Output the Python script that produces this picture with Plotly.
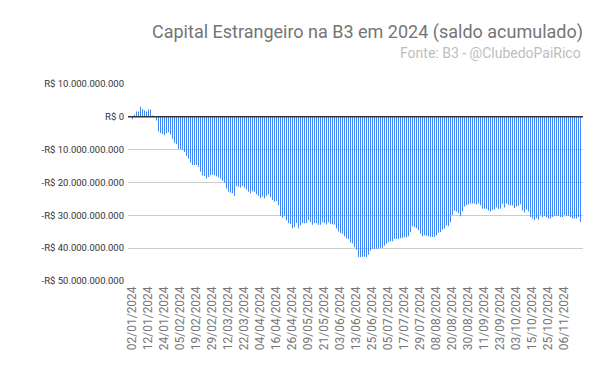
import plotly.graph_objects as go

dates = (
    ["02/01/2024","03/01/2024","04/01/2024","05/01/2024","08/01/2024","09/01/2024","10/01/2024","11/01/2024","12/01/2024",
     "15/01/2024","16/01/2024","17/01/2024","18/01/2024","19/01/2024","22/01/2024","23/01/2024","24/01/2024","25/01/2024",
     "26/01/2024","29/01/2024","30/01/2024","31/01/2024"]
    + ["01/02/2024","02/02/2024","05/02/2024","06/02/2024","07/02/2024","08/02/2024","09/02/2024","14/02/2024","15/02/2024",
       "16/02/2024","19/02/2024","20/02/2024","21/02/2024","22/02/2024","23/02/2024","26/02/2024","27/02/2024","28/02/2024",
       "29/02/2024"]
    + ["01/03/2024","04/03/2024","05/03/2024","06/03/2024","07/03/2024","08/03/2024","11/03/2024","12/03/2024","13/03/2024",
       "14/03/2024","15/03/2024","18/03/2024","19/03/2024","20/03/2024","21/03/2024","22/03/2024","25/03/2024","26/03/2024",
       "27/03/2024","28/03/2024"]
    + ["01/04/2024","02/04/2024","03/04/2024","04/04/2024","05/04/2024","08/04/2024","09/04/2024","10/04/2024","11/04/2024",
       "12/04/2024","15/04/2024","16/04/2024","17/04/2024","18/04/2024","19/04/2024","22/04/2024","23/04/2024","24/04/2024",
       "25/04/2024","26/04/2024","29/04/2024","30/04/2024"]
    + ["02/05/2024","03/05/2024","06/05/2024","07/05/2024","08/05/2024","09/05/2024","10/05/2024","13/05/2024","14/05/2024",
       "15/05/2024","16/05/2024","17/05/2024","20/05/2024","21/05/2024","22/05/2024","23/05/2024","24/05/2024","27/05/2024",
       "28/05/2024","29/05/2024","31/05/2024"]
    + ["03/06/2024","04/06/2024","05/06/2024","06/06/2024","07/06/2024","10/06/2024","11/06/2024","12/06/2024","13/06/2024",
       "14/06/2024","17/06/2024","18/06/2024","19/06/2024","20/06/2024","21/06/2024","24/06/2024","25/06/2024","26/06/2024",
       "27/06/2024","28/06/2024"]
    + ["01/07/2024","02/07/2024","03/07/2024","04/07/2024","05/07/2024","08/07/2024","09/07/2024","10/07/2024","11/07/2024",
       "12/07/2024","15/07/2024","16/07/2024","17/07/2024","18/07/2024","19/07/2024","22/07/2024","23/07/2024","24/07/2024",
       "25/07/2024","26/07/2024","29/07/2024","30/07/2024","31/07/2024"]
    + ["01/08/2024","02/08/2024","05/08/2024","06/08/2024","07/08/2024","08/08/2024","09/08/2024","12/08/2024","13/08/2024",
       "14/08/2024","15/08/2024","16/08/2024","19/08/2024","20/08/2024","21/08/2024","22/08/2024","23/08/2024","26/08/2024",
       "27/08/2024","28/08/2024","29/08/2024","30/08/2024"]
    + ["02/09/2024","03/09/2024","04/09/2024","05/09/2024","06/09/2024","09/09/2024","10/09/2024","11/09/2024","12/09/2024",
       "13/09/2024","16/09/2024","17/09/2024","18/09/2024","19/09/2024","20/09/2024","23/09/2024","24/09/2024","25/09/2024",
       "26/09/2024","27/09/2024","30/09/2024"]
    + ["01/10/2024","02/10/2024","03/10/2024","04/10/2024","07/10/2024","08/10/2024","09/10/2024","10/10/2024","11/10/2024",
       "14/10/2024","15/10/2024","16/10/2024","17/10/2024","18/10/2024","21/10/2024","22/10/2024","23/10/2024","24/10/2024",
       "25/10/2024","28/10/2024","29/10/2024","30/10/2024","31/10/2024"]
    + ["01/11/2024","04/11/2024","05/11/2024","06/11/2024","07/11/2024","08/11/2024","11/11/2024","12/11/2024","13/11/2024",
       "14/11/2024","18/11/2024","19/11/2024"]
)

# accumulated balance, in billions of R$
saldo_bi = [
    -0.7, 0.6, 1.6, 1.6, 3.1, 2.4, 1.9, 1.6, 2.2, 2.2,
    0.4, -0.1, -1.1, -4.4, -4.9, -5.2, -5.6, -4.9, -4.7, -5.4,
    -6.7, -7.9, -8.3, -9.7, -9.9, -10.0, -10.7, -11.9, -12.8, -14.0,
    -14.7, -14.7, -14.7, -15.2, -16.7, -17.9, -18.0, -18.8, -18.3, -17.8,
    -17.6, -17.8, -18.1, -18.4, -18.8, -19.5, -20.1, -21.8, -22.8, -23.1,
    -23.3, -24.0, -21.1, -21.3, -21.5, -21.1, -21.6, -22.1, -22.8, -23.3,
    -22.7, -22.8, -23.6, -24.1, -24.8, -24.3, -24.8, -24.0, -23.6, -24.5,
    -25.3, -25.9, -25.6, -26.9, -30.1, -30.7, -30.3, -31.5, -32.3, -32.6,
    -33.9, -33.6, -32.3, -33.9, -33.1, -32.3, -32.4, -32.3, -31.5, -32.0,
    -32.9, -32.3, -32.4, -32.9, -32.9, -32.1, -32.3, -32.8, -32.1, -32.6,
    -32.7, -32.9, -34.0, -34.9, -35.4, -35.6, -36.4, -37.0, -37.2, -38.3,
    -38.6, -39.7, -40.5, -42.7, -42.7, -42.6, -42.6, -42.8, -42.0, -40.7,
    -40.2, -40.2, -40.2, -40.2, -39.9, -39.9, -39.3, -38.6, -38.1, -37.9,
    -37.9, -37.2, -37.1, -37.1, -37.0, -36.9, -36.7, -36.7, -36.4, -35.1,
    -33.3, -33.6, -33.9, -34.5, -35.5, -36.4, -36.1, -36.2, -36.4, -36.5,
    -36.6, -36.6, -36.1, -35.3, -35.1, -34.3, -34.0, -33.1, -33.3, -32.1,
    -29.8, -28.6, -28.8, -29.3, -30.3, -28.8, -27.3, -26.9, -26.6, -26.4,
    -26.4, -26.4, -26.7, -26.4, -26.9, -27.9, -27.9, -28.1, -28.5, -28.8,
    -28.3, -28.2, -27.6, -28.1, -27.9, -26.5, -27.6, -26.4, -26.8, -27.0,
    -27.0, -27.8, -27.3, -27.1, -26.6, -28.5, -29.1, -28.3, -28.8, -30.5,
    -31.0, -31.5, -30.8, -31.3, -29.8, -30.5, -30.1, -30.6, -31.0, -31.0,
    -30.5, -30.1, -30.1, -30.1, -30.5, -30.5, -29.8, -30.1, -30.1, -30.5,
    -31.0, -31.0, -31.0, -30.5, -32.0,
]

tick_labels = ["02/01/2024","12/01/2024","24/01/2024","05/02/2024","19/02/2024","29/02/2024","12/03/2024",
               "22/03/2024","04/04/2024","16/04/2024","26/04/2024","09/05/2024","21/05/2024","03/06/2024",
               "13/06/2024","25/06/2024","05/07/2024","17/07/2024","29/07/2024","08/08/2024","20/08/2024",
               "30/08/2024","11/09/2024","23/09/2024","03/10/2024","15/10/2024","25/10/2024","06/11/2024"]

y_ticks = [10, 0, -10, -20, -30, -40, -50]
y_tick_text = ["R$ 10.000.000.000", "R$ 0", "-R$ 10.000.000.000", "-R$ 20.000.000.000",
               "-R$ 30.000.000.000", "-R$ 40.000.000.000", "-R$ 50.000.000.000"]

fig = go.Figure(go.Bar(x=dates, y=saldo_bi,
                       marker=dict(color="rgba(66,133,244,0.999)", line=dict(width=0))))

# the page body adds an 8px offset; size the figure to fill the remaining window
fig.update_layout(
    width=592, height=363,
    paper_bgcolor="white", plot_bgcolor="white",
    margin=dict(l=120, r=17, t=76, b=90),
    bargap=0.5,
    showlegend=False,
    font=dict(family="Roboto", color="#444"),
    title=dict(text="Capital Estrangeiro na B3 em 2024 (saldo acumulado)",
               xref="paper", x=1.0, xanchor="right", yref="container", y=1 - 23.5 / 363, yanchor="middle",
               font=dict(family="Roboto", size=18, color="#757575")),
    annotations=[dict(text="Fonte: B3 - @ClubedoPaiRico", xref="paper", yref="paper",
                      x=1.0, xanchor="right", y=1.0, yanchor="middle", yshift=31,
                      showarrow=False, font=dict(family="Roboto", size=14, color="#bdbdbd"))],
    shapes=[dict(type="line", xref="paper", yref="y", x0=0, x1=1, y0=0, y1=0,
                 line=dict(color="#333333", width=1.5), layer="above")],
)
fig.update_xaxes(type="category", range=[-2.25, 225.25], tickmode="array", tickvals=tick_labels, ticktext=tick_labels,
                 tickangle=-90, tickfont=dict(family="Roboto", size=12, color="#757575"),
                 showgrid=False, showline=False, ticks="", automargin=False, ticklabelstandoff=2)
fig.update_yaxes(range=[-50, 10], tickmode="array", tickvals=y_ticks, ticktext=y_tick_text,
                 tickfont=dict(family="Roboto", size=9.5, color="#333"),
                 showgrid=True, gridcolor="#cccccc", gridwidth=1, zeroline=False, ticks="", automargin=False,
                 ticklabelstandoff=3)

fig.write_html("out.html")
